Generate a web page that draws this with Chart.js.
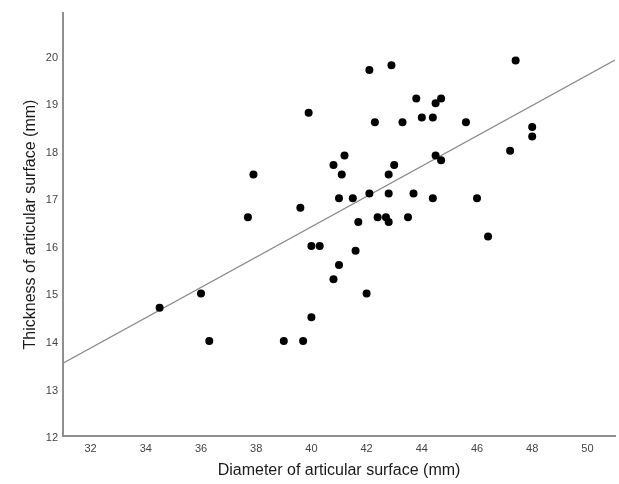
<!DOCTYPE html>
<html>
<head>
<meta charset="utf-8">
<script src="https://cdn.jsdelivr.net/npm/chart.js@4/dist/chart.umd.min.js"></script>
<style>
  html, body { margin: 0; padding: 0; background: #fff; }
  #wrap { width: 619px; height: 484px; position: relative; }
</style>
</head>
<body>
<div id="wrap"><canvas id="chart" width="619" height="484"></canvas></div>
<script>
// Diameter (mm) of each articular surface
const diameter = [
  34.5, 36.0, 36.3, 37.7, 37.9, 39.0, 39.6, 39.7, 39.9, 40.0,
  40.3, 40.0, 40.8, 40.8, 41.0, 41.0, 41.1, 41.2, 41.5, 41.6,
  41.7, 42.0, 42.1, 42.1, 42.3, 42.4, 42.7, 42.8, 42.8, 42.8,
  42.9, 43.0, 43.3, 43.5, 43.7, 43.8, 44.0, 44.4, 44.4, 44.5,
  44.5, 44.7, 44.7, 45.6, 46.0, 46.4, 47.2, 47.4, 48.0, 48.0
];
// Thickness (mm) of the same surfaces
const thickness = [
  14.7, 15.0, 14.0, 16.6, 17.5, 14.0, 16.8, 14.0, 18.8, 16.0,
  16.0, 14.5, 15.3, 17.7, 15.6, 17.0, 17.5, 17.9, 17.0, 15.9,
  16.5, 15.0, 17.1, 19.7, 18.6, 16.6, 16.6, 16.5, 17.1, 17.5,
  19.8, 17.7, 18.6, 16.6, 17.1, 19.1, 18.7, 17.0, 18.7, 19.0,
  17.9, 19.1, 17.8, 18.6, 17.0, 16.2, 18.0, 19.9, 18.5, 18.3
];
// Linear fit line, end points across the x range
const fitX = [31, 51];
const fitY = [13.53, 19.91];

const xTicks = [32, 34, 36, 38, 40, 42, 44, 46, 48, 50];
const yTicks = [12, 13, 14, 15, 16, 17, 18, 19, 20];

const xTitle = 'Diameter of articular surface (mm)';
const yTitle = 'Thickness of articular surface (mm)';

const points = diameter.map((d, i) => ({ x: d, y: thickness[i] }));
const fitPoints = fitX.map((d, i) => ({ x: d, y: fitY[i] }));

const axisColor = '#8f8f8f';
const tickFont = { family: 'Arial, "Liberation Sans", sans-serif', size: 11 };
const titleFont = { family: 'Arial, "Liberation Sans", sans-serif', size: 16 };

new Chart(document.getElementById('chart'), {
  type: 'scatter',
  data: {
    datasets: [
      {
        type: 'scatter',
        data: points,
        backgroundColor: '#000',
        borderWidth: 0,
        pointRadius: 4,
        pointHoverRadius: 4,
        order: 0
      },
      {
        type: 'line',
        data: fitPoints,
        borderColor: '#8a8a8a',
        borderWidth: 1.3,
        pointRadius: 0,
        fill: false,
        tension: 0,
        order: 1
      }
    ]
  },
  options: {
    responsive: false,
    animation: false,
    events: [],
    layout: { padding: { top: 13, right: 2, left: 0, bottom: 0 } },
    plugins: {
      legend: { display: false },
      tooltip: { enabled: false }
    },
    scales: {
      x: {
        type: 'linear',
        min: 31,
        max: 51,
        grid: { display: false, drawTicks: false, tickLength: 0 },
        border: { display: true, color: axisColor, width: 2 },
        afterBuildTicks: s => { s.ticks = xTicks.map(v => ({ value: v })); },
        afterFit: s => { s.height = 48; },
        ticks: { color: '#444', font: tickFont, padding: 6, maxRotation: 0 },
        title: {
          display: true,
          text: xTitle,
          color: '#1a1a1a',
          font: titleFont,
          padding: { top: 0, bottom: 4 }
        }
      },
      y: {
        type: 'linear',
        min: 12,
        max: 20.9,
        grid: { display: false, drawTicks: false, tickLength: 0 },
        border: { display: true, color: axisColor, width: 2 },
        afterBuildTicks: s => { s.ticks = yTicks.map(v => ({ value: v })); },
        afterFit: s => { s.width = 63; },
        ticks: { color: '#444', font: tickFont, padding: 5, labelOffset: 2 },
        title: {
          display: true,
          text: yTitle,
          color: '#1a1a1a',
          font: titleFont,
          padding: { top: 21, bottom: 0 }
        }
      }
    }
  }
});
</script>
</body>
</html>
